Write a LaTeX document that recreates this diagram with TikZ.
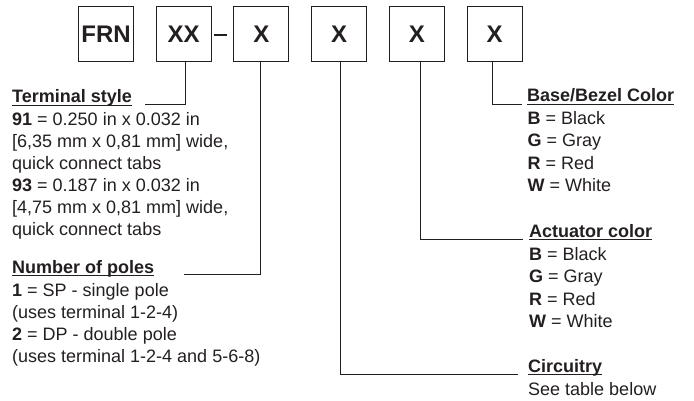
\documentclass[tikz,border=0pt]{standalone}
\usepackage{fontspec}
\setmainfont{Liberation Sans}
\definecolor{ink}{HTML}{231F20}
\begin{document}
\begin{tikzpicture}[x=1pt,y=-1pt,
  box/.style={draw=ink, line width=1pt, minimum width=55pt, minimum height=55pt, inner sep=0pt,
              font=\fontsize{24}{24}\selectfont\bfseries, text=ink},
  txt/.style={anchor=base west, inner sep=0pt, font=\fontsize{18}{22}\selectfont, text=ink},
  hdr/.style={anchor=base west, inner sep=0pt, font=\fontsize{18}{22}\selectfont\bfseries, text=ink},
  uline/.style={draw=ink, line width=1.2pt},
  conn/.style={draw=ink, line width=1pt}]
\useasboundingbox (0,0) rectangle (694,401);

% code boxes
\node[box] (frn) at (106,34.5) {FRN};
\node[box] (xx)  at (183.7,34.5) {XX};
\node[box] (x1)  at (261.4,34.5) {X};
\node[box] (x2)  at (339.1,34.5) {X};
\node[box] (x3)  at (416.8,34.5) {X};
\node[box] (x4)  at (494.5,34.5) {X};
% dash between XX and first X
\draw[draw=ink, line width=2pt] ([xshift=2.5pt,yshift=-1pt]xx.east) -- ([xshift=-6pt,yshift=-1pt]x1.west);

% headers
\node[hdr] (ts) at (12,103) {Terminal style};
\node[hdr] (np) at (12,273) {Number of poles};
\node[hdr] (bb) at (527,101.7) {Base/Bezel Color};
\node[hdr] (ac) at (529,237) {Actuator color};
\node[hdr] (ci) at (528,372) {Circuitry};
\foreach \h in {ts,np,bb,ac,ci}
  \draw[uline] ([yshift=-2.6pt]\h.base west) -- ([yshift=-2.6pt]\h.base east);

% terminal style body
\foreach \t [count=\i from 0] in {{\textbf{91} = 0.250 in x 0.032 in},
    {[6,35 mm x 0,81 mm] wide,},
    {quick connect tabs},
    {\textbf{93} = 0.187 in x 0.032 in},
    {[4,75 mm x 0,81 mm] wide,},
    {quick connect tabs}}
  \node[txt] (ts\i) at (12,125.7+22*\i) {\t};

% number of poles body
\foreach \t [count=\i from 0] in {{\textbf{1} = SP - single pole},
    {(uses terminal 1-2-4)},
    {\textbf{2} = DP - double pole},
    {(uses terminal 1-2-4 and 5-6-8)}}
  \node[txt] (np\i) at (12,296.5+22*\i) {\t};

% base/bezel color body
\foreach \t [count=\i from 0] in {{\textbf{B} = Black},{\textbf{G} = Gray},{\textbf{R} = Red},{\textbf{W} = White}}
  \node[txt] (bb\i) at (527.5,124.5+22.5*\i) {\t};

% actuator color body
\foreach \t [count=\i from 0] in {{\textbf{B} = Black},{\textbf{G} = Gray},{\textbf{R} = Red},{\textbf{W} = White}}
  \node[txt] (ac\i) at (529,260+22.5*\i) {\t};

% circuitry body
\node[txt] (ci0) at (528,395) {See table below};

% connectors
\coordinate (tsend) at (145,105);
\coordinate (npend) at (184,274.3);
\coordinate (ciend) at (518,374);
\coordinate (acend) at (523,239.3);
\coordinate (bbend) at (522,104.3);
\draw[conn] ([xshift=1.3pt]xx.south) |- (tsend);
\draw[conn] ([xshift=-1.4pt]x1.south) |- (npend);
\draw[conn] ([xshift=1pt]x2.south) |- (ciend);
\draw[conn] ([xshift=3.2pt]x3.south) |- (acend);
\draw[conn] ([xshift=-2.2pt]x4.south) |- (bbend);
\end{tikzpicture}
\end{document}
